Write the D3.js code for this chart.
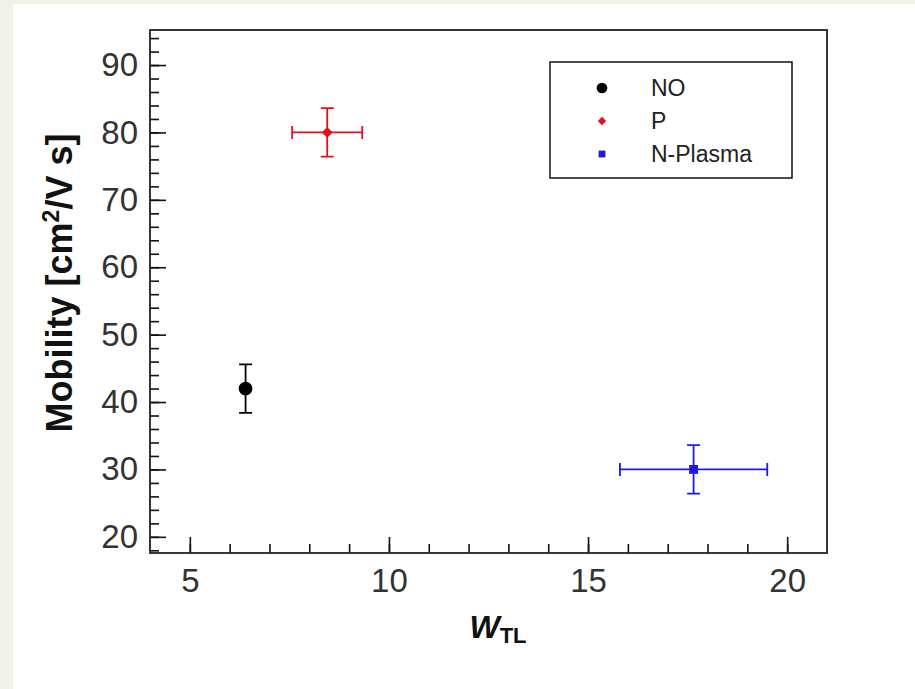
<!DOCTYPE html>
<html>
<head>
<meta charset="utf-8">
<script src="https://cdn.jsdelivr.net/npm/d3@7"></script>
<style>
  body { margin: 0; background: #f2f1e9; }
  svg { display: block; }
</style>
</head>
<body>
<div id="chart"></div>
<script>
// data
const series = [`NO`, `P`, `N-Plasma`];
const wTL = [6.4, 8.45, 17.65];
const wTLErr = [0, 0.88, 1.85];
const mobility = [42, 80, 30];
const mobilityErr = [3.6, 3.6, 3.6];
const xTicks = [5, 10, 15, 20];
const yTicks = [20, 30, 40, 50, 60, 70, 80, 90];

const colorMap = {
    "NO" : `#000000`,
    "P" : `#e3101c`,
    "N-Plasma" : `#1c1ce0`,
};
const shapeMap = {
    "NO" : d3.symbolCircle,
    "P" : d3.symbolDiamond2,
    "N-Plasma" : d3.symbolSquare2,
};

const width = 915;
const height = 689;
const plot = {left: 150, top: 30, right: 827, bottom: 553};
const fontFamily = `"Liberation Sans", Arial, sans-serif`;
const tickColor = `#333`;

const xScale = d3.scaleLinear().domain([4, 21]).range([plot.left, plot.right]);
const yScale = d3.scaleLinear().domain([17.6, 95.2]).range([plot.bottom, plot.top]);

const svg = d3.select(`#chart`).append(`svg`)
    .attr(`width`, width)
    .attr(`height`, height);

svg.append(`rect`)
    .attr(`width`, width).attr(`height`, height)
    .attr(`fill`, `#f2f1e9`);
svg.append(`rect`)
    .attr(`x`, 13).attr(`y`, 4)
    .attr(`width`, width - 13).attr(`height`, height - 4)
    .attr(`fill`, `white`);

// minor ticks (inward)
const xMinor = d3.range(5, 21, 1);
const yMinor = d3.range(18, 95, 2);

svg.append(`g`)
    .attr(`transform`, `translate(0,${plot.bottom})`)
    .call(d3.axisBottom(xScale).tickValues(xMinor).tickSize(-9).tickFormat(``))
    .call(g => g.select(`.domain`).remove())
    .call(g => g.selectAll(`.tick line`).attr(`stroke`, `#111`).attr(`stroke-width`, 1.6));

svg.append(`g`)
    .attr(`transform`, `translate(${plot.left},0)`)
    .call(d3.axisLeft(yScale).tickValues(yMinor).tickSize(-9).tickFormat(``))
    .call(g => g.select(`.domain`).remove())
    .call(g => g.selectAll(`.tick line`).attr(`stroke`, `#111`).attr(`stroke-width`, 1.6));

// major ticks + labels
svg.append(`g`)
    .attr(`transform`, `translate(0,${plot.bottom})`)
    .call(d3.axisBottom(xScale).tickValues(xTicks).tickSize(-16).tickPadding(16))
    .call(g => g.select(`.domain`).remove())
    .call(g => g.selectAll(`.tick line`).attr(`stroke`, `#111`).attr(`stroke-width`, 1.6))
    .call(g => g.selectAll(`.tick text`)
        .style(`font`, `33px ${fontFamily}`)
        .attr(`fill`, tickColor));

svg.append(`g`)
    .attr(`transform`, `translate(${plot.left},0)`)
    .call(d3.axisLeft(yScale).tickValues(yTicks).tickSize(-16).tickPadding(12))
    .call(g => g.select(`.domain`).remove())
    .call(g => g.selectAll(`.tick line`).attr(`stroke`, `#111`).attr(`stroke-width`, 1.6))
    .call(g => g.selectAll(`.tick text`)
        .style(`font`, `33px ${fontFamily}`)
        .attr(`fill`, tickColor));

// frame
svg.append(`rect`)
    .attr(`x`, plot.left).attr(`y`, plot.top)
    .attr(`width`, plot.right - plot.left)
    .attr(`height`, plot.bottom - plot.top)
    .attr(`fill`, `none`)
    .attr(`stroke`, `#222`)
    .attr(`stroke-width`, 1.8);

// axis titles
const yLabel = svg.append(`text`)
    .attr(`transform`, `translate(72,283) rotate(-90)`)
    .attr(`text-anchor`, `middle`)
    .style(`font`, `bold 36px ${fontFamily}`)
    .attr(`fill`, `#111`);
yLabel.append(`tspan`).text(`Mobility [cm`);
yLabel.append(`tspan`).attr(`dy`, -13).style(`font-size`, `23px`).text(`2`);
yLabel.append(`tspan`).attr(`dy`, 13).text(`/V s]`);

const xLabel = svg.append(`text`)
    .attr(`x`, 498).attr(`y`, 638)
    .attr(`text-anchor`, `middle`)
    .style(`font`, `bold 32px ${fontFamily}`)
    .attr(`fill`, `#111`);
xLabel.append(`tspan`).style(`font-style`, `italic`).text(`W`);
xLabel.append(`tspan`).attr(`dy`, 5).style(`font-size`, `22px`).text(`TL`);

// error bars and points
const cap = 6.5;
const pts = series.map((s, i) => ({
    name: s, x: wTL[i], xe: wTLErr[i], y: mobility[i], ye: mobilityErr[i]
}));

const bars = svg.append(`g`).selectAll(`g`)
    .data(pts)
    .join(`g`)
    .attr(`stroke`, d => colorMap[d.name])
    .attr(`stroke-width`, 1.8)
    .attr(`fill`, `none`);

bars.filter(d => d.xe > 0).append(`path`)
    .attr(`d`, d => {
        const x1 = xScale(d.x - d.xe), x2 = xScale(d.x + d.xe), y = yScale(d.y);
        return `M${x1},${y}H${x2}M${x1},${y - cap}V${y + cap}M${x2},${y - cap}V${y + cap}`;
    });

bars.append(`path`)
    .attr(`d`, d => {
        const x = xScale(d.x), y1 = yScale(d.y + d.ye), y2 = yScale(d.y - d.ye);
        return `M${x},${y1}V${y2}M${x - cap},${y1}H${x + cap}M${x - cap},${y2}H${x + cap}`;
    });

const markerSize = {"NO": 150, "P": 75, "N-Plasma": 100};
svg.append(`g`).selectAll(`path`)
    .data(pts)
    .join(`path`)
    .attr(`transform`, d => `translate(${xScale(d.x)},${yScale(d.y)})`)
    .attr(`d`, d => d3.symbol(shapeMap[d.name], markerSize[d.name])())
    .attr(`fill`, d => colorMap[d.name]);

// legend
const legend = svg.append(`g`);
legend.append(`rect`)
    .attr(`x`, 550).attr(`y`, 62)
    .attr(`width`, 242).attr(`height`, 116)
    .attr(`fill`, `white`)
    .attr(`stroke`, `#222`)
    .attr(`stroke-width`, 1.6);

const legendSize = {"NO": 90, "P": 45, "N-Plasma": 60};
series.forEach((s, i) => {
    const y = 88 + i * 33;
    legend.append(`path`)
        .attr(`transform`, `translate(602,${y})`)
        .attr(`d`, d3.symbol(shapeMap[s], legendSize[s])())
        .attr(`fill`, colorMap[s]);
    legend.append(`text`)
        .attr(`x`, 651).attr(`y`, y)
        .attr(`dy`, `0.35em`)
        .style(`font`, `23px ${fontFamily}`)
        .attr(`fill`, `#222`)
        .text(s);
});
</script>
</body>
</html>
